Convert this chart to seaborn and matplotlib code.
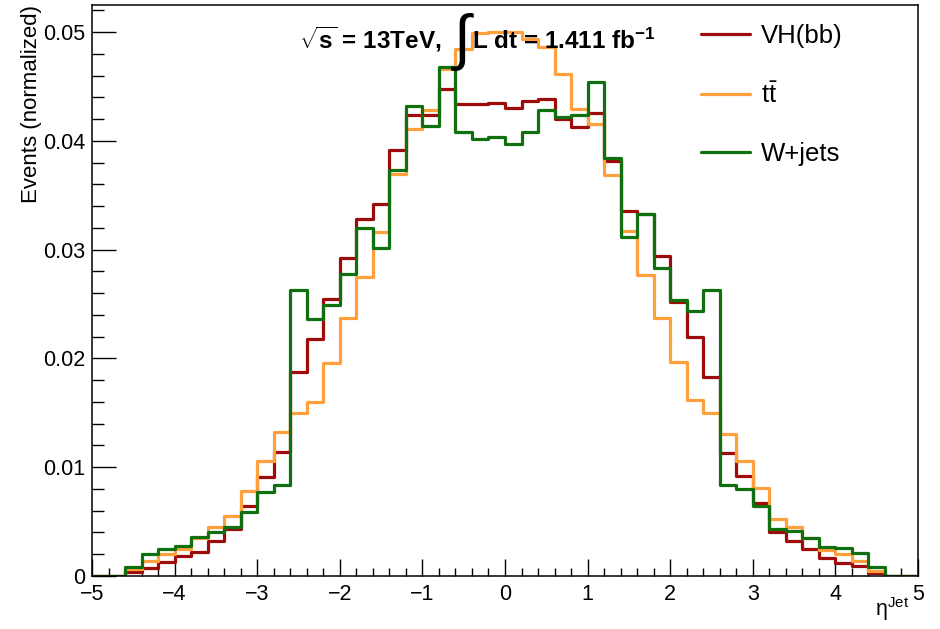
import matplotlib
matplotlib.use('Agg')
import matplotlib.pyplot as plt
import numpy as np
import pandas as pd
import seaborn as sns
from matplotlib.lines import Line2D
from matplotlib.ticker import MultipleLocator, FuncFormatter

# 50 bins of width 0.2 from -5 to 5
bin_edges = list(np.round(np.linspace(-5, 5, 51), 2))
bin_centers = [round(0.5 * (a + b), 2) for a, b in zip(bin_edges[:-1], bin_edges[1:])]

vh_bb = [0, 0, 0.00035, 0.00077, 0.00126, 0.0018, 0.0022, 0.0032, 0.0043, 0.0064,
         0.0091, 0.0114, 0.0188, 0.0218, 0.0255, 0.0292, 0.0328, 0.0342, 0.0392, 0.0424,
         0.0424, 0.0448, 0.0434, 0.0434, 0.0435, 0.0430, 0.0437, 0.0439, 0.0420, 0.0413,
         0.0426, 0.0382, 0.0336, 0.0333, 0.0294, 0.0252, 0.0220, 0.0183, 0.0113, 0.0092,
         0.0067, 0.0040, 0.0032, 0.0025, 0.0017, 0.0012, 0.0009, 0.00025, 0, 0]

ttbar = [0, 0, 0.0006, 0.0014, 0.0020, 0.0025, 0.0035, 0.0045, 0.0055, 0.0078,
         0.0106, 0.0132, 0.0150, 0.0160, 0.0196, 0.0237, 0.0275, 0.0316, 0.0370, 0.0411,
         0.0428, 0.0466, 0.0485, 0.0499, 0.0500, 0.0500, 0.0494, 0.0486, 0.0462, 0.0429,
         0.0416, 0.0369, 0.0317, 0.0277, 0.0237, 0.0197, 0.0162, 0.0150, 0.0131, 0.0106,
         0.0081, 0.0052, 0.0045, 0.0035, 0.0024, 0.0020, 0.0014, 0.00045, 0, 0]

wjets = [0, 0, 0.00085, 0.0020, 0.0025, 0.00276, 0.0036, 0.0040, 0.0045, 0.0059,
         0.0077, 0.0084, 0.0263, 0.0236, 0.0249, 0.0278, 0.0320, 0.0302, 0.0373, 0.0432,
         0.0414, 0.0468, 0.0408, 0.0402, 0.0404, 0.0397, 0.0408, 0.0428, 0.0422, 0.0424,
         0.0454, 0.0384, 0.0312, 0.0333, 0.0283, 0.0254, 0.0244, 0.0263, 0.0084, 0.0080,
         0.0064, 0.0043, 0.0041, 0.0035, 0.0027, 0.0026, 0.0021, 0.0008, 0, 0]

samples = ['VH(bb)', r't$\bar{\mathrm{t}}$', 'W+jets']
colors = ['#9e0b0b', '#ffa03c', '#10700f']

sns.set_theme(style='white')
plt.rcParams['font.family'] = ['Liberation Sans', 'DejaVu Sans']
plt.rcParams['mathtext.fontset'] = 'custom'
plt.rcParams['mathtext.rm'] = 'Liberation Sans'
plt.rcParams['mathtext.it'] = 'Liberation Sans:italic'
plt.rcParams['mathtext.bf'] = 'Liberation Sans:bold'
plt.rcParams['text.color'] = 'black'

W, H = 940, 629
def fx(px):
    return px / W
def fy(py):
    return 1 - py / H

fig = plt.figure(figsize=(9.4, 6.29), dpi=100)
ax = fig.add_axes([fx(92), fy(576), (918 - 92) / W, (576 - 5) / H])

# draw histograms (red first, green on top)
for vals, col in zip([vh_bb, ttbar, wjets], colors):
    df = pd.DataFrame({'eta': bin_centers, 'events': vals})
    sns.histplot(data=df, x='eta', weights='events', bins=bin_edges,
                 element='step', fill=False, color=col, linewidth=2.3, ax=ax)

ax.set_xlim(-5, 5)
ax.set_ylim(0, 0.0525)
ax.set_xlabel('')
ax.set_ylabel('')

# ROOT-like axes
ax.xaxis.set_major_locator(MultipleLocator(1))
ax.xaxis.set_minor_locator(MultipleLocator(0.2))
ax.yaxis.set_major_locator(MultipleLocator(0.01))
ax.yaxis.set_minor_locator(MultipleLocator(0.002))
ax.yaxis.set_major_formatter(FuncFormatter(lambda v, p: '0' if abs(v) < 1e-9 else f'{v:.2f}'))
ax.tick_params(axis='both', which='both', direction='in', top=False, right=False,
               left=True, bottom=True, width=1.0, color='black',
               labelsize=15.5, labelcolor='black')
ax.tick_params(axis='x', which='major', length=12, pad=6)
ax.tick_params(axis='x', which='minor', length=6)
ax.tick_params(axis='y', which='major', length=17, pad=5)
ax.tick_params(axis='y', which='minor', length=8.5)
for sp in ax.spines.values():
    sp.set_color('black')
    sp.set_linewidth(1.1)

# axis titles
fig.text(fx(32), fy(5), 'Events (normalized)', rotation=90, ha='center', va='top', fontsize=16)
fig.text(fx(909), fy(616), r'η$^{\mathrm{Jet}}$', ha='right', va='baseline', fontsize=15.5)

# legend
handles = [Line2D([], [], color=c, lw=2.3) for c in colors]
ax.legend(handles, samples, loc='upper left', bbox_to_anchor=(fx(701), fy(24)),
          bbox_transform=fig.transFigure, frameon=False, fontsize=18.5,
          handlelength=1.9, handletextpad=0.45, labelspacing=1.33,
          borderpad=0, borderaxespad=0)

# energy / luminosity label
fig.text(fx(442), fy(49), r'$\mathbf{\sqrt{s}}$ = 13TeV,', ha='right', va='baseline',
         fontsize=17.5, fontweight='bold')
fig.text(fx(462), fy(42), '∫', ha='center', va='center', fontsize=44,
         family=['Liberation Sans', 'DejaVu Sans'])
fig.text(fx(472), fy(49), r'L dt = 1.411 fb$^{\mathbf{-1}}$', ha='left', va='baseline',
         fontsize=17.5, fontweight='bold')

fig.savefig('out.png', dpi=100)
